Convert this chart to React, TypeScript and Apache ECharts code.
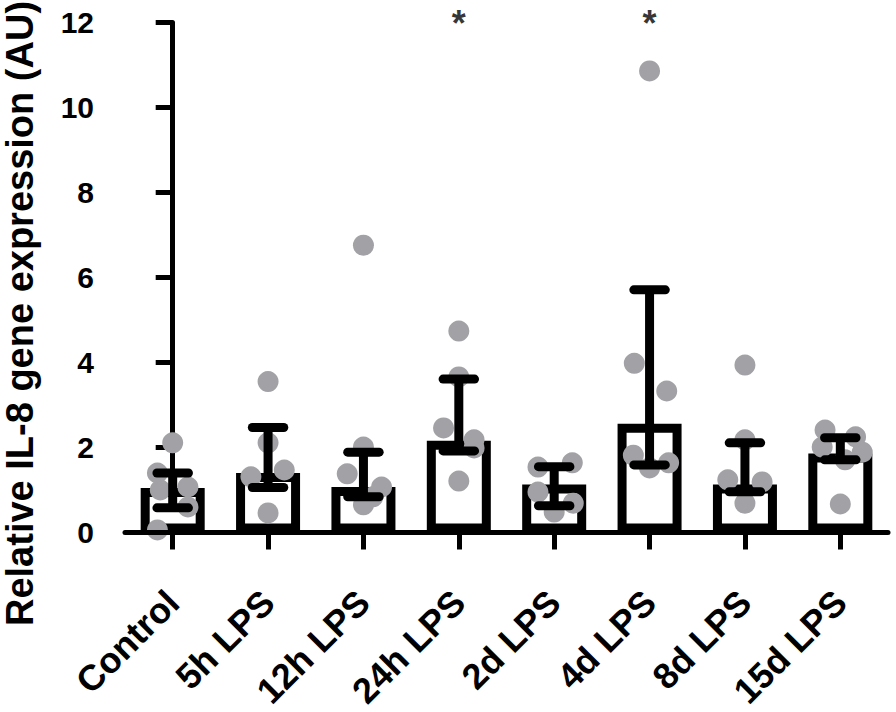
import React, { useEffect, useRef } from "react";
import * as echarts from "echarts";

const categories = ["Control", "5h LPS", "12h LPS", "24h LPS", "2d LPS", "4d LPS", "8d LPS", "15d LPS"];
const barValues = [1.05, 1.4, 1.07, 2.16, 1.13, 2.56, 1.13, 1.86];
const errLow = [0.58, 1.06, 0.84, 1.92, 0.63, 1.59, 0.96, 1.71];
const errHigh = [1.4, 2.47, 1.89, 3.61, 1.55, 5.71, 2.11, 2.23];
const pointValues = [
  [2.11, 1.4, 1.07, 1.0, 0.6, 0.06],
  [3.55, 2.11, 1.31, 1.47, 0.46],
  [6.76, 2.01, 1.38, 1.07, 0.84, 0.65],
  [4.74, 3.66, 2.46, 2.18, 1.99, 1.21],
  [1.54, 1.64, 0.95, 0.69, 0.48],
  [10.86, 3.98, 3.33, 1.82, 1.64, 1.52],
  [3.94, 2.18, 1.24, 1.19, 0.69],
  [2.41, 2.25, 2.01, 1.89, 1.71, 0.67],
];
const pointOffsets = [
  [0, -0.16, 0.16, -0.13, 0.16, -0.16],
  [0, 0, -0.18, 0.17, 0],
  [0, 0, -0.17, 0.19, 0.1, 0],
  [0, 0, -0.16, 0.16, 0.16, 0],
  [-0.17, 0.19, -0.17, 0.2, 0],
  [0, -0.16, 0.18, -0.17, 0.2, 0],
  [0, 0, -0.18, 0.18, 0],
  [-0.16, 0.16, -0.19, 0.23, 0.05, 0],
];
const significance = ["", "", "", "*", "", "*", "", ""];
const yMin = 0;
const yMax = 12;
const yInterval = 2;
const starLevel = 11.98;

const FONT = "'Liberation Sans', Arial, Helvetica, sans-serif";

export default function App() {
  const ref = useRef<HTMLDivElement>(null);
  useEffect(() => {
    if (!ref.current) return;
    const chart = echarts.init(ref.current, null, { renderer: "svg" });

    const scatterData: number[][] = [];
    pointValues.forEach((vals, i) => {
      vals.forEach((v, j) => scatterData.push([i + pointOffsets[i][j], v]));
    });
    const errData = categories.map((_, i) => [i, errLow[i], errHigh[i]]);
    const starData = significance
      .map((s, i) => (s ? { value: [i, starLevel], label: { formatter: s } } : null))
      .filter(Boolean);

    chart.setOption({
      animation: false,
      backgroundColor: "#fff",
      grid: {
        left: 125,
        right: 8,
        top: 22.5,
        bottom: 179.5,
        containLabel: false,
        outerBoundsMode: "none",
      },
      xAxis: [
        {
          type: "category",
          data: categories,
          z: 10,
          axisLine: { show: true, lineStyle: { color: "#000", width: 5, cap: "round" } },
          axisTick: { show: true, alignWithLabel: true, length: 17, lineStyle: { color: "#000", width: 5 } },
          axisLabel: {
            rotate: 45,
            interval: 0,
            margin: 64,
            color: "#000",
            fontSize: 36,
            fontWeight: "bold",
            fontFamily: FONT,
          },
          splitLine: { show: false },
        },
        {
          type: "value",
          min: -0.5,
          max: categories.length - 0.5,
          show: false,
          splitLine: { show: false },
        },
      ],
      yAxis: {
        type: "value",
        min: yMin,
        max: yMax,
        interval: yInterval,
        name: "Relative IL-8 gene expression (AU)",
        nameLocation: "middle",
        nameRotate: 90,
        nameGap: 86,
        nameTextStyle: {
          color: "#000",
          fontSize: 38,
          fontWeight: "bold",
          fontFamily: FONT,
          padding: [0, 72, 0, 0],
        },
        axisLine: { show: true, lineStyle: { color: "#000", width: 5, cap: "round" } },
        axisTick: { show: true, length: 17, lineStyle: { color: "#000", width: 5 } },
        axisLabel: { margin: 31, color: "#000", fontSize: 30, fontWeight: "bold", fontFamily: FONT },
        splitLine: { show: false },
      },
      series: [
        {
          type: "bar",
          data: barValues,
          barWidth: 64,
          itemStyle: { color: "#fff", borderColor: "#000", borderWidth: 9 },
          z: 2,
        },
        {
          type: "scatter",
          xAxisIndex: 1,
          data: scatterData,
          symbolSize: 21,
          itemStyle: { color: "#a2a2a6", opacity: 1 },
          z: 3,
        },
        {
          type: "custom",
          xAxisIndex: 0,
          data: errData,
          z: 4,
          renderItem: (params: any, api: any) => {
            const i = api.value(0);
            const lo = api.coord([i, api.value(1)]);
            const hi = api.coord([i, api.value(2)]);
            const band = api.size([1, 0])[0];
            const half = band * 0.165;
            const style = { stroke: "#000", lineWidth: 9, lineCap: "round" };
            return {
              type: "group",
              children: [
                { type: "line", shape: { x1: lo[0], y1: lo[1], x2: hi[0], y2: hi[1] }, style: { ...style, lineCap: "butt" } },
                { type: "line", shape: { x1: hi[0] - half, y1: hi[1], x2: hi[0] + half, y2: hi[1] }, style },
                { type: "line", shape: { x1: lo[0] - half, y1: lo[1], x2: lo[0] + half, y2: lo[1] }, style },
              ],
            };
          },
        },
        {
          type: "scatter",
          xAxisIndex: 0,
          data: starData,
          symbolSize: 1,
          clip: false,
          itemStyle: { color: "rgba(0,0,0,0)" },
          label: {
            show: true,
            position: "inside",
            color: "#000",
            fontSize: 36,
            lineHeight: 36,
            fontWeight: "bold",
            fontFamily: FONT,
          },
          z: 5,
        },
      ],
    });
    return () => chart.dispose();
  }, []);
  return <div ref={ref} style={{ position: "fixed", left: 0, top: 0, width: 896, height: 712 }} />;
}
